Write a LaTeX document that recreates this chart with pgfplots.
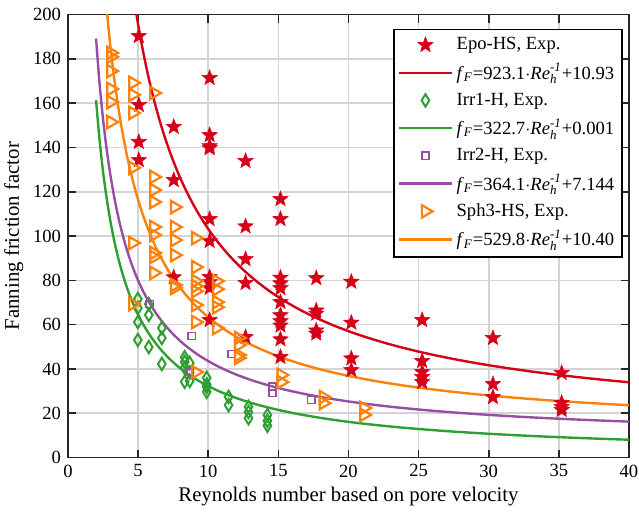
\documentclass[border=0pt]{standalone}
\usepackage{fontspec}
\setmainfont{Liberation Serif}
\usepackage{amsmath}
\usepackage{pgfplots}
\pgfplotsset{compat=1.18}
\usetikzlibrary{calc}

\definecolor{cEpo}{RGB}{214,0,24}
\definecolor{cIrrA}{RGB}{46,160,50}
\definecolor{cIrrB}{RGB}{150,78,162}
\definecolor{cSph}{RGB}{255,128,10}

% filled five-pointed star
\pgfdeclareplotmark{fstar}{%
  \pgfpathmoveto{\pgfpointpolar{90}{\pgfplotmarksize}}%
  \pgfpathlineto{\pgfpointpolar{126}{0.42\pgfplotmarksize}}%
  \pgfpathlineto{\pgfpointpolar{162}{\pgfplotmarksize}}%
  \pgfpathlineto{\pgfpointpolar{198}{0.42\pgfplotmarksize}}%
  \pgfpathlineto{\pgfpointpolar{234}{\pgfplotmarksize}}%
  \pgfpathlineto{\pgfpointpolar{270}{0.42\pgfplotmarksize}}%
  \pgfpathlineto{\pgfpointpolar{306}{\pgfplotmarksize}}%
  \pgfpathlineto{\pgfpointpolar{342}{0.42\pgfplotmarksize}}%
  \pgfpathlineto{\pgfpointpolar{18}{\pgfplotmarksize}}%
  \pgfpathlineto{\pgfpointpolar{54}{0.42\pgfplotmarksize}}%
  \pgfpathclose
  \pgfusepathqfillstroke
}

\newcommand{\fit}[2]{\textit{f}$_{\textit{F}}$=#1$\cdot$\textit{Re}$^{\textit{-1}}_{\textit{h}}$+#2}

\begin{document}
\begin{tikzpicture}
\begin{axis}[
  name=main,
  scale only axis,
  width=280.5pt, height=221.5pt,
  xmin=0, xmax=40, ymin=0, ymax=200,
  xtick={0,5,...,40}, ytick={0,20,...,200},
  grid=major,
  major grid style={line width=0.8pt, color=black!17},
  axis line style={line width=0.9pt, black!85},
  tick style={line width=0.8pt, black!85},
  tick align=inside,
  major tick length=4pt,
  /pgf/number format/assume math mode=true,
  ticklabel style={font=\fontsize{9.3}{11}\selectfont},
  label style={font=\fontsize{10.4}{12}\selectfont},
  xlabel={Reynolds number based on pore velocity},
  ylabel={Fanning friction factor},
  xlabel style={yshift=2pt},
  ylabel style={yshift=-2pt},
  legend cell align=left,
  legend style={
    at={(1,1)}, anchor=north east, xshift=-3pt, yshift=-7pt,
    draw=black, line width=0.8pt, fill=white,
    font=\fontsize{9.3}{11}\selectfont,
    inner sep=2pt, row sep=1.2pt,
    nodes={inner sep=2pt},
  },
  legend image code/.code={%
    \draw[mark repeat=2,mark phase=2] plot coordinates {(0pt,0pt)(13pt,0pt)(26pt,0pt)};},
]

% Epo-HS
\addplot[only marks, mark=fstar, mark size=4pt, color=cEpo, fill=cEpo, line width=0.3pt] coordinates {
 (5.05,190.3) (5.05,159.2) (5.05,142.5) (5.05,134.3)
 (7.54,149.3) (7.54,125.3) (7.54,81.4)
 (10.1,171.4) (10.1,145.6) (10.1,140.6) (10.1,139.7) (10.1,107.7) (10.1,97.8)
 (10.1,81.5) (10.1,79.2) (10.1,76.6) (10.1,62.1)
 (12.66,133.9) (12.66,104.4) (12.66,89.6) (12.66,78.8) (12.66,54.4)
 (15.15,116.7) (15.15,107.7) (15.15,81.2) (15.15,78.7) (15.15,76.5) (15.15,70.2)
 (15.15,64.3) (15.15,61.6) (15.15,59.6) (15.15,53.4) (15.15,45.4)
 (17.7,81.0) (17.7,66.4) (17.7,65.0) (17.7,57.4) (17.7,56.0)
 (20.2,79.4) (20.2,60.9) (20.2,44.8) (20.2,39.5)
 (25.25,62.1) (25.25,43.6) (25.25,38.6) (25.25,36.4) (25.25,34.1)
 (30.3,54.0) (30.3,33.2) (30.3,27.3)
 (35.2,38.2) (35.2,24.7) (35.2,22.8) (35.2,21.5)
};
\addlegendentry{Epo-HS, Exp.}
\addplot[cEpo, line width=1.2pt, domain=4.8:40, samples=160, smooth] {923.1/x+10.93};
\addlegendentry{\fit{923.1}{10.93}}

% Irr1-H
\addplot[only marks, mark=diamond, mark size=3.1pt, mark options={xscale=0.82}, color=cIrrA, line width=1pt] coordinates {
 (4.98,71.6) (4.98,67.5) (4.98,61.2) (4.98,53.1)
 (5.76,69.3) (5.76,64.4) (5.76,49.9)
 (6.69,58.5) (6.69,54.0) (6.69,42.3)
 (8.32,45.3) (8.32,43.2) (8.32,40.5) (8.32,34.2)
 (8.68,42.7) (8.68,38.4) (8.68,34.6)
 (9.89,36.0) (9.89,33.0) (9.89,31.9) (9.89,29.7)
 (11.45,27.4) (11.45,23.7)
 (12.87,22.9) (12.87,20.6) (12.87,17.8)
 (14.22,19.2) (14.22,16.6) (14.22,14.4)
};
\addlegendentry{Irr1-H, Exp.}
\addplot[cIrrA, line width=1.2pt, domain=2:40, samples=160, smooth] {322.7/x+0.001};
\addlegendentry{\fit{322.7}{0.001}}

% Irr2-H
\addplot[only marks, mark=square, mark size=1.8pt, color=cIrrB, line width=0.7pt] coordinates {
 (5.83,69.3) (8.82,54.9) (8.68,38.9) (11.66,46.8)
 (14.58,32.0) (14.58,29.2) (17.35,26.0)
};
\addlegendentry{Irr2-H, Exp.}
\addplot[cIrrB, line width=1.2pt, domain=2:40, samples=160, smooth] {364.1/x+7.144};
\addlegendentry{\fit{364.1}{7.144}}

% Sph3-HS
\addplot[only marks, mark=triangle, mark size=3.6pt, mark options={rotate=-90}, color=cSph, line width=1.1pt] coordinates {
 (3.06,182.7) (3.06,180.9) (3.06,174.5) (3.06,166.4) (3.06,160.5) (3.06,151.5)
 (4.62,169.2) (4.62,163.8) (4.62,155.6) (4.62,130.8) (4.62,96.9) (4.62,69.3)
 (6.12,164.6) (6.12,126.7) (6.12,120.8) (6.12,115.4) (6.12,104.1) (6.12,100.5)
 (6.12,92.4) (6.12,90.6) (6.12,83.4)
 (7.6,113.1) (7.6,104.1) (7.6,98.2) (7.6,91.4) (7.6,77.9) (7.6,76.6)
 (9.1,99.1) (9.1,86.0) (9.1,79.7) (9.1,77.4) (9.1,75.1) (9.1,68.9) (9.1,61.2) (9.1,38.6)
 (10.6,79.7) (10.6,76.0) (10.6,70.2) (10.6,67.9) (10.6,58.5)
 (12.16,54.0) (12.16,50.8) (12.16,46.3) (12.16,45.0)
 (15.2,37.3) (15.2,34.1)
 (18.2,27.3) (18.2,24.6)
 (21.1,22.4) (21.1,19.3)
};
\addlegendentry{Sph3-HS, Exp.}
\addplot[cSph, line width=1.2pt, domain=2.7:40, samples=160, smooth] {529.8/x+10.40};
\addlegendentry{\fit{529.8}{10.40}}

\end{axis}
\pgfresetboundingbox
\path[use as bounding box] ($(main.south west)+(-34pt,-27.7pt)$) rectangle ($(main.north east)+(5pt,7.3pt)$);
\end{tikzpicture}
\end{document}
